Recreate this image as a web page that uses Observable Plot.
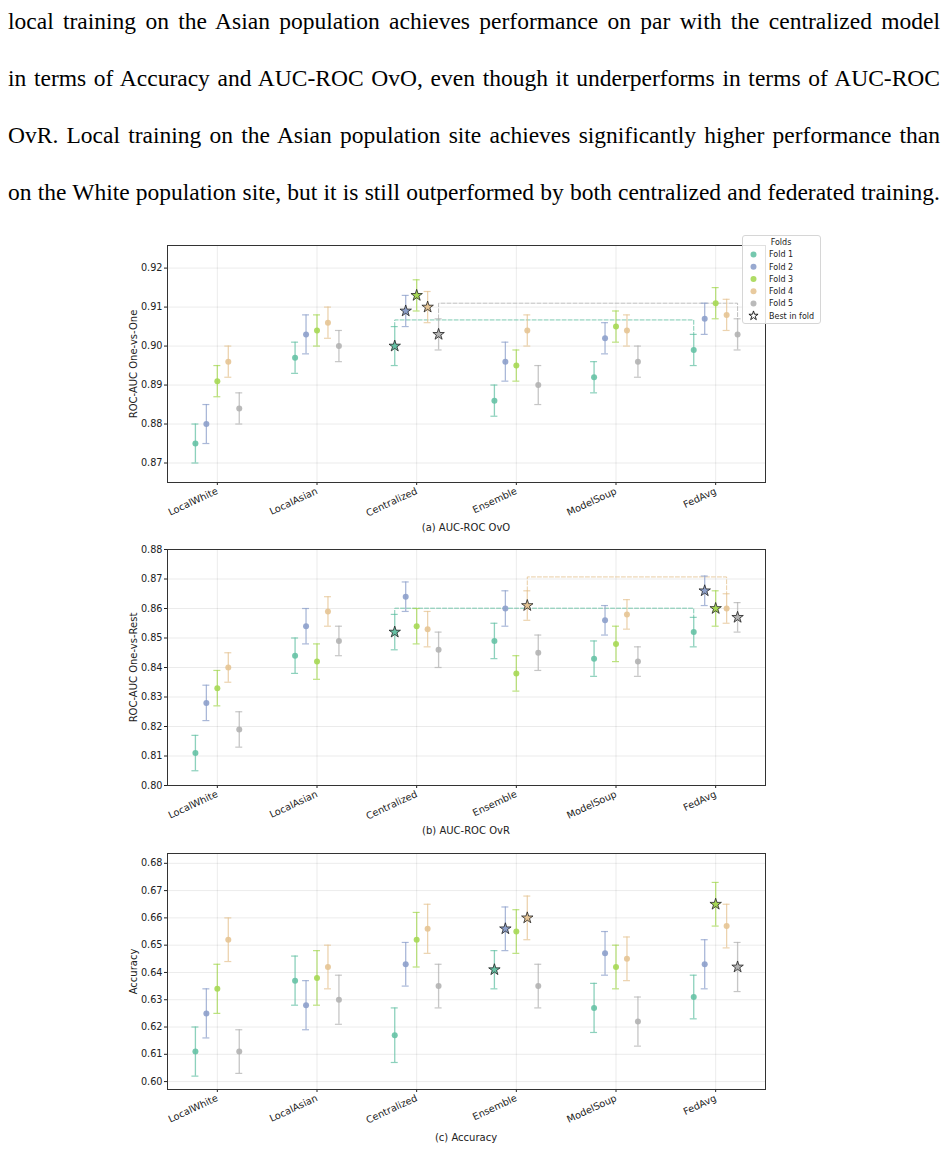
<!DOCTYPE html>
<html>
<head>
<meta charset="utf-8">
<script src="https://cdn.jsdelivr.net/npm/d3@7"></script>
<script src="https://cdn.jsdelivr.net/npm/@observablehq/plot@0.6"></script>
<style>
  body { margin: 0; background: #fff; width: 948px; height: 1151px; position: relative; overflow: hidden; font-family: "DejaVu Sans", sans-serif; }
  #para { position: absolute; left: 8px; top: -7px; width: 932px; font-family: "Liberation Serif", "Times New Roman", serif; font-size: 23.5px; line-height: 57px; color: #000; }
  #para div { text-align: justify; text-align-last: justify; }
  .panel { position: absolute; left: 0; }
  .caption { position: absolute; transform: translate(-50%, -50%); font-size: 10px; color: #222; white-space: nowrap; }
  #legend { position: absolute; left: 742px; top: 235px; }
</style>
</head>
<body>
<div id="para">
  <div>local training on the Asian population achieves performance on par with the centralized model</div>
  <div>in terms of Accuracy and AUC-ROC OvO, even though it underperforms in terms of AUC-ROC</div>
  <div>OvR. Local training on the Asian population site achieves significantly higher performance than</div>
  <div>on the White population site, but it is still outperformed by both centralized and federated training.</div>
</div>
<script>
// Training strategies and cross-validation folds
const methods = ["LocalWhite", "LocalAsian", "Centralized", "Ensemble", "ModelSoup", "FedAvg"];
const folds = ["Fold 1", "Fold 2", "Fold 3", "Fold 4", "Fold 5"];
const foldColors = ["#66c2a5", "#8da0cb", "#a6d854", "#e5c494", "#b3b3b3"];

// ROC-AUC One-vs-One: mean and error per fold (rows) and method (columns)
const ovoMean = [
  [0.875, 0.897, 0.900, 0.886, 0.892, 0.899],
  [0.880, 0.903, 0.909, 0.896, 0.902, 0.907],
  [0.891, 0.904, 0.913, 0.895, 0.905, 0.911],
  [0.896, 0.906, 0.910, 0.904, 0.904, 0.908],
  [0.884, 0.900, 0.903, 0.890, 0.896, 0.903]
];
const ovoErr = [
  [0.005, 0.004, 0.005, 0.004, 0.004, 0.004],
  [0.005, 0.005, 0.004, 0.005, 0.004, 0.004],
  [0.004, 0.004, 0.004, 0.004, 0.004, 0.004],
  [0.004, 0.004, 0.004, 0.004, 0.004, 0.004],
  [0.004, 0.004, 0.004, 0.005, 0.004, 0.004]
];

// ROC-AUC One-vs-Rest
const ovrMean = [
  [0.811, 0.844, 0.852, 0.849, 0.843, 0.852],
  [0.828, 0.854, 0.864, 0.860, 0.856, 0.866],
  [0.833, 0.842, 0.854, 0.838, 0.848, 0.860],
  [0.840, 0.859, 0.853, 0.861, 0.858, 0.860],
  [0.819, 0.849, 0.846, 0.845, 0.842, 0.857]
];
const ovrErr = [
  [0.006, 0.006, 0.006, 0.006, 0.006, 0.005],
  [0.006, 0.006, 0.005, 0.006, 0.005, 0.005],
  [0.006, 0.006, 0.006, 0.006, 0.006, 0.006],
  [0.005, 0.005, 0.006, 0.005, 0.005, 0.005],
  [0.006, 0.005, 0.006, 0.006, 0.005, 0.005]
];

// Accuracy
const accMean = [
  [0.611, 0.637, 0.617, 0.641, 0.627, 0.631],
  [0.625, 0.628, 0.643, 0.656, 0.647, 0.643],
  [0.634, 0.638, 0.652, 0.655, 0.642, 0.665],
  [0.652, 0.642, 0.656, 0.660, 0.645, 0.657],
  [0.611, 0.630, 0.635, 0.635, 0.622, 0.642]
];
const accErr = [
  [0.009, 0.009, 0.010, 0.007, 0.009, 0.008],
  [0.009, 0.009, 0.008, 0.008, 0.008, 0.009],
  [0.009, 0.010, 0.010, 0.008, 0.008, 0.008],
  [0.008, 0.008, 0.009, 0.008, 0.008, 0.008],
  [0.008, 0.009, 0.008, 0.008, 0.009, 0.009]
];

// Comparison brackets: fold, the two methods compared, and the bracket height
const ovoBrackets = [
  {fold: 0, from: "Centralized", to: "FedAvg", level: 0.9067},
  {fold: 4, from: "Centralized", to: "FedAvg", level: 0.9110}
];
const ovrBrackets = [
  {fold: 0, from: "Centralized", to: "FedAvg", level: 0.8601},
  {fold: 3, from: "Ensemble", to: "FedAvg", level: 0.8707}
];
const accBrackets = [];

const ovoTicks = [0.87, 0.88, 0.89, 0.90, 0.91, 0.92];
const ovrTicks = [0.80, 0.81, 0.82, 0.83, 0.84, 0.85, 0.86, 0.87, 0.88];
const accTicks = [0.60, 0.61, 0.62, 0.63, 0.64, 0.65, 0.66, 0.67, 0.68];

const foldShift = 0.11;   // horizontal spread of folds around each method
const capHalf = 0.035;    // half width of error-bar caps

function toRows(mean, err) {
  const rows = [];
  mean.forEach((row, f) => {
    let bestM = 0;
    row.forEach((v, m) => { if (v > row[bestM]) bestM = m; });
    row.forEach((v, m) => {
      rows.push({f, m, x: m + (f - 2) * foldShift, y: v, lo: v - err[f][m], hi: v + err[f][m], best: m === bestM});
    });
  });
  return rows;
}

function bracketPath(rows, brackets) {
  return brackets.flatMap((b, i) => {
    const a = rows.find(r => r.f === b.fold && r.m === methods.indexOf(b.from));
    const c = rows.find(r => r.f === b.fold && r.m === methods.indexOf(b.to));
    return [
      {id: i, f: b.fold, x: a.x, y: a.hi},
      {id: i, f: b.fold, x: a.x, y: b.level},
      {id: i, f: b.fold, x: c.x, y: b.level},
      {id: i, f: b.fold, x: c.x, y: c.hi}
    ];
  });
}

function panel({mean, err, brackets, domain, ticks, label, frameTop, frameH, caption, captionY}) {
  const rows = toRows(mean, err);
  const path = bracketPath(rows, brackets);
  const marginTop = 10, marginBottom = 45;
  const chart = Plot.plot({
    width: 948,
    height: marginTop + frameH + marginBottom,
    marginLeft: 167,
    marginRight: 183,
    marginTop,
    marginBottom,
    style: {fontFamily: "DejaVu Sans", fontSize: "9.7px", color: "#222", background: "transparent"},
    x: {domain: [-0.5, 5.5]},
    y: {domain},
    color: {type: "ordinal", domain: d3.range(folds.length), range: foldColors},
    marks: [
      Plot.gridX(d3.range(methods.length), {stroke: "#000", strokeOpacity: 0.08}),
      Plot.gridY(ticks, {stroke: "#000", strokeOpacity: 0.08}),
      Plot.line(path, {x: "x", y: "y", z: "id", stroke: "f", strokeDasharray: "4,2", strokeWidth: 1, strokeOpacity: 0.85}),
      Plot.ruleX(rows, {x: "x", y1: "lo", y2: "hi", stroke: "f", strokeWidth: 1.3, strokeOpacity: 0.75}),
      Plot.ruleY(rows, {y: "hi", x1: d => d.x - capHalf, x2: d => d.x + capHalf, stroke: "f", strokeWidth: 1.2, strokeOpacity: 0.75}),
      Plot.ruleY(rows, {y: "lo", x1: d => d.x - capHalf, x2: d => d.x + capHalf, stroke: "f", strokeWidth: 1.2, strokeOpacity: 0.75}),
      Plot.dot(rows.filter(d => !d.best), {x: "x", y: "y", r: 3, fill: "f", fillOpacity: 0.9}),
      Plot.dot(rows.filter(d => d.best), {x: "x", y: "y", symbol: "star", r: 3.6, fill: "f", stroke: "#222", strokeWidth: 0.8}),
      Plot.axisX(d3.range(methods.length), {tickFormat: i => methods[i], tickRotate: -25, tickSize: 3, tickPadding: 5, label: null}),
      Plot.axisY(ticks, {tickFormat: d3.format(".2f"), tickSize: 3, tickPadding: 2, label: null}),
      Plot.text([label], {frameAnchor: "left", dx: -34, rotate: -90, textAnchor: "middle", lineAnchor: "middle", fontSize: 10, fill: "#222"}),
      Plot.frame({stroke: "#333", strokeWidth: 1})
    ]
  });
  chart.classList.add("panel");
  chart.style.top = (frameTop - marginTop) + "px";
  document.body.appendChild(chart);

  const cap = document.createElement("div");
  cap.className = "caption";
  cap.textContent = caption;
  cap.style.left = "466px";
  cap.style.top = captionY + "px";
  document.body.appendChild(cap);
}

panel({mean: ovoMean, err: ovoErr, brackets: ovoBrackets, domain: [0.865, 0.9258], ticks: ovoTicks,
       label: "ROC-AUC One-vs-One", frameTop: 245, frameH: 237, caption: "(a) AUC-ROC OvO", captionY: 527});
panel({mean: ovrMean, err: ovrErr, brackets: ovrBrackets, domain: [0.80, 0.88], ticks: ovrTicks,
       label: "ROC-AUC One-vs-Rest", frameTop: 549, frameH: 236, caption: "(b) AUC-ROC OvR", captionY: 830});
panel({mean: accMean, err: accErr, brackets: accBrackets, domain: [0.5971, 0.6836], ticks: accTicks,
       label: "Accuracy", frameTop: 853, frameH: 236, caption: "(c) Accuracy", captionY: 1137});

// Legend for the folds and the best-in-fold marker
const lw = 78, lh = 88;
const leg = d3.select("body").append("svg").attr("id", "legend").attr("width", lw + 1).attr("height", lh + 1)
  .style("font-family", "DejaVu Sans").style("font-size", "8px");
leg.append("rect").attr("x", 0.5).attr("y", 0.5).attr("width", lw).attr("height", lh).attr("rx", 2.5)
  .attr("fill", "#fff").attr("fill-opacity", 0.85).attr("stroke", "#d6d6d6");
leg.append("text").attr("x", 39).attr("y", 6.7).attr("dy", "0.35em").attr("text-anchor", "middle").attr("fill", "#222").text("Folds");
const entries = folds.concat(["Best in fold"]);
entries.forEach((name, i) => {
  const cy = 19.5 + i * 12.25;
  if (i < folds.length) {
    leg.append("circle").attr("cx", 11.5).attr("cy", cy).attr("r", 3).attr("fill", foldColors[i]).attr("fill-opacity", 0.9);
  } else {
    leg.append("path").attr("transform", `translate(11.5,${cy})`)
      .attr("d", d3.symbol(d3.symbolStar, 26)()).attr("fill", "#fff").attr("stroke", "#111").attr("stroke-width", 0.9);
  }
  leg.append("text").attr("x", 27).attr("y", cy).attr("dy", "0.35em").attr("fill", "#222").text(name);
});
</script>
</body>
</html>
